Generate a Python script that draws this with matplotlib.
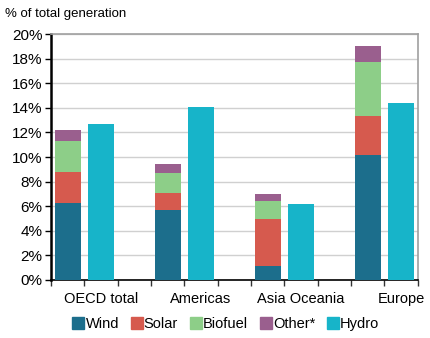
import numpy as np
import matplotlib.pyplot as plt
from matplotlib.lines import Line2D

regioes = ['OECD total', 'Americas', 'Asia Oceania', 'Europe']
wind = [6.3, 5.7, 1.1, 10.2]
solar = [2.5, 1.4, 3.9, 3.1]
biofuel = [2.5, 1.6, 1.4, 4.4]
other = [0.9, 0.7, 0.6, 1.3]
hydro = [12.7, 14.1, 6.2, 14.4]

series = ['Wind', 'Solar', 'Biofuel', 'Other*', 'Hydro']
cores = ['#1c6e8c', '#d65a4e', '#8dce88', '#9a5f8e', '#17b4c9']

plt.rcParams['font.family'] = ['Liberation Sans', 'DejaVu Sans']

fig = plt.figure(figsize=(4.3, 3.38), dpi=100)
ax = fig.add_axes([0.1186, 0.1716, 0.853, 0.7278])

n = len(regioes)
x_stack = np.arange(n) * 3
x_hydro = x_stack + 1
largura = 0.78

base = np.zeros(n)
for vals, cor in zip([wind, solar, biofuel, other], cores[:4]):
    ax.bar(x_stack, vals, largura, bottom=base, color=cor, zorder=3)
    base += np.array(vals)
ax.bar(x_hydro, hydro, largura, color=cores[4], zorder=3)

ax.set_xlim(-0.5, 10.5)
ax.set_ylim(0, 20)
ax.set_yticks(np.arange(0, 21, 2))
ax.set_yticklabels([f'{v}%' for v in range(0, 21, 2)], fontsize=11)
ax.yaxis.grid(True, color='#d0d0d0', linewidth=1, zorder=0)

ax.set_xticks(np.arange(-0.5, 11, 1), minor=True)
ax.set_xticks(x_hydro)
ax.set_xticklabels(regioes, fontsize=10.5)
ax.tick_params(axis='x', which='major', length=0, pad=9)
ax.tick_params(axis='x', which='minor', length=4, width=1, color='#333333')
ax.tick_params(axis='y', length=4, width=1, pad=2)

ax.spines['left'].set_linewidth(1.8)
ax.spines['left'].set_color('black')
ax.spines['bottom'].set_linewidth(1.2)
ax.spines['bottom'].set_color('black')
for lado in ['top', 'right']:
    ax.spines[lado].set_color('#a0a0a0')
    ax.spines[lado].set_linewidth(1.2)

fig.text(0.012, 0.958, '% of total generation', fontsize=9.5, va='center')

handles = [Line2D([], [], marker='s', linestyle='none', color=c, markersize=8) for c in cores]
fig.legend(handles, series, loc='center', bbox_to_anchor=(0.525, 0.04), ncol=5,
           frameon=False, fontsize=10.5, handletextpad=0.1, columnspacing=0.8,
           handlelength=0.8)

fig.savefig('out.png', dpi=100)
